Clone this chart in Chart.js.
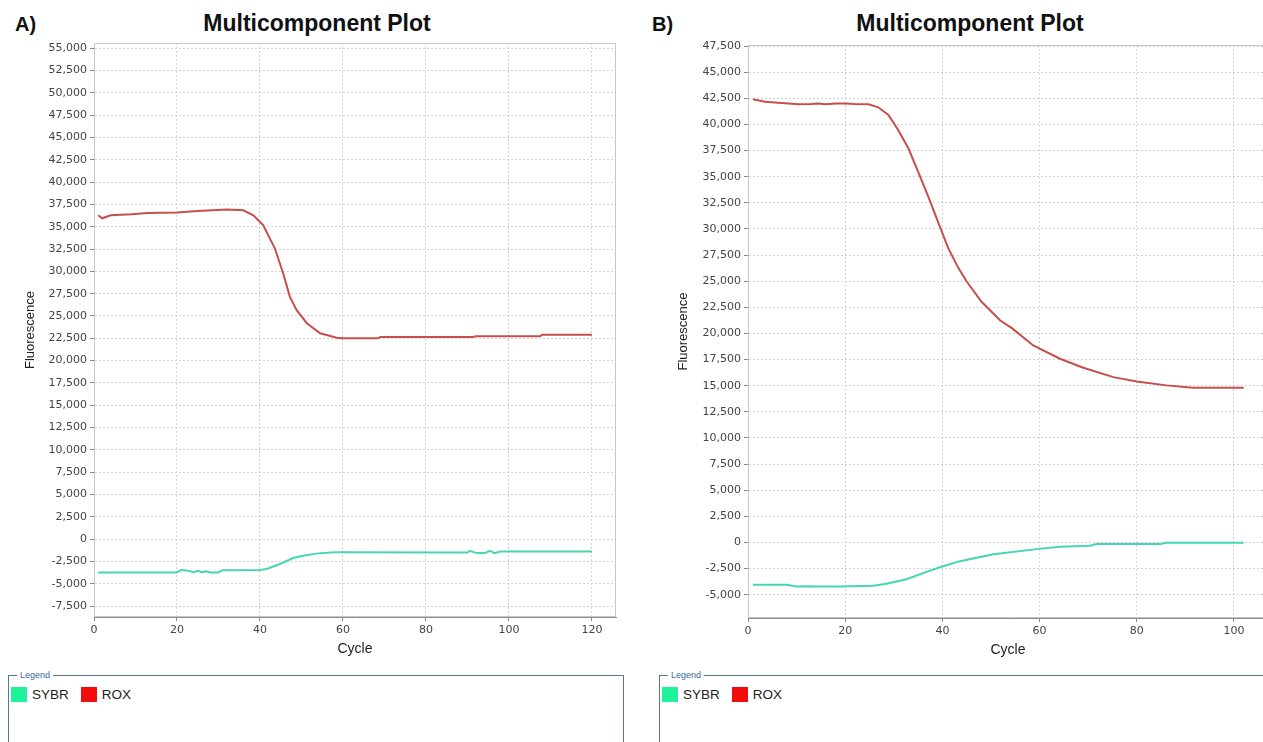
<!DOCTYPE html>
<html>
<head>
<meta charset="utf-8">
<script src="https://cdn.jsdelivr.net/npm/chart.js@4"></script>
<style>
  html, body { margin: 0; padding: 0; background: #fff; overflow: hidden; width: 1263px; height: 742px; }
  .wrap { position: relative; width: 1263px; height: 742px; overflow: hidden; }
  canvas { position: absolute; top: 0; }
  .panel { position: absolute; font: bold 20px "Liberation Sans", Arial, sans-serif; color: #111; }
  .title { position: absolute; font: bold 23px "Liberation Sans", Arial, sans-serif; color: #111; transform: translateX(-50%); white-space: nowrap; }
  .legbox { position: absolute; top: 675px; height: 120px; border: 1.5px solid #5a7690; }
  .legbox .cap { position: absolute; left: 8px; top: -6px; padding: 0 3px; background: #fff; font: 9px "Liberation Sans", Arial, sans-serif; color: #3b6aa6; }
  .legbox .items { position: absolute; left: 2px; top: 11px; display: flex; align-items: center; font: 13.5px "Liberation Sans", Arial, sans-serif; color: #222; }
  .legbox .sw { width: 16px; height: 15px; margin-right: 5px; }
  .legbox .lab { margin-right: 12px; }
</style>
</head>
<body>
<div class="wrap">
  <div class="panel" style="left:15px; top:13px;">A)</div>
  <div class="panel" style="left:652px; top:13px;">B)</div>
  <div class="title" style="left:317px; top:10px;">Multicomponent Plot</div>
  <div class="title" style="left:970px; top:10px;">Multicomponent Plot</div>
  <canvas id="chartA" width="640" height="658" style="left:0px;"></canvas>
  <canvas id="chartB" width="640" height="659" style="left:640px;"></canvas>
  <div class="legbox" style="left:8px; width:614px;"><span class="cap">Legend</span><div class="items" id="legA"></div></div>
  <div class="legbox" style="left:659px; width:700px;"><span class="cap">Legend</span><div class="items" id="legB"></div></div>
</div>
<script>
// series names and colours
const seriesNames = ["SYBR", "ROX"];
const lineColors = ["#45d6b3", "#c64f4c"];
const legendColors = ["#1ef29a", "#f20c0c"];

// Panel A (cycles 1-120)
const cycA_sybr = [1, 20, 21, 23, 24, 25, 26, 27, 28, 30, 31, 40, 41.6, 44.8, 48, 50.4, 54, 58, 60, 90, 90.6, 92.2, 94.2, 95.4, 96.6, 97.8, 120];
const sybrA     = [-3730, -3730, -3460, -3560, -3730, -3560, -3700, -3600, -3730, -3730, -3480, -3460, -3350, -2790, -2120, -1860, -1600, -1480, -1480, -1500, -1310, -1570, -1570, -1310, -1570, -1390, -1390];
const cycA_rox  = [1, 2, 4, 9, 13, 20, 25, 32, 36, 38.4, 40.8, 43.6, 45.6, 47.2, 48.8, 51.3, 54.5, 58.5, 60, 68.5, 69, 91.4, 92, 107.5, 108, 120];
const roxA      = [36290, 35950, 36290, 36400, 36550, 36590, 36770, 36930, 36850, 36290, 35170, 32560, 29760, 27170, 25680, 24190, 23070, 22570, 22500, 22500, 22650, 22650, 22720, 22720, 22900, 22900];

// Panel B (cycles 1-102)
const cycB_sybr = [1, 8, 9.9, 12, 14, 18.9, 25.8, 28.5, 32.6, 36, 39.5, 43.6, 50.5, 59.4, 64.2, 70.4, 71.7, 84.8, 86.1, 102];
const sybrB     = [-4060, -4060, -4220, -4180, -4220, -4220, -4150, -3960, -3520, -2940, -2370, -1790, -1120, -640, -420, -320, -160, -160, -30, -30];
const cycB_rox  = [1, 3.5, 6.2, 10.4, 13, 14.5, 16, 18, 20, 22, 24.8, 26.8, 28.9, 30.9, 33, 35, 37.1, 39.2, 41.2, 43.3, 45, 48.1, 51.9, 54.3, 58.7, 64.2, 69, 75.2, 80, 86.1, 91.6, 102];
const roxB      = [42400, 42170, 42080, 41920, 41950, 42010, 41920, 42000, 42010, 41950, 41920, 41640, 40900, 39470, 37720, 35480, 33090, 30550, 28160, 26250, 24970, 23000, 21240, 20510, 18850, 17580, 16720, 15820, 15410, 15030, 14810, 14810];

// axis ranges and ticks
const xRangeA = [0, 125.8];
const yRangeA = [-8730, 55590];
const xRangeB = [0, 107];
const yRangeB = [-7230, 47600];
const xTicksA = [0, 20, 40, 60, 80, 100, 120];
const xTicksB = [0, 20, 40, 60, 80, 100];
const yTicksA = [-7500, -5000, -2500, 0, 2500, 5000, 7500, 10000, 12500, 15000, 17500, 20000, 22500, 25000,
                 27500, 30000, 32500, 35000, 37500, 40000, 42500, 45000, 47500, 50000, 52500, 55000];
const yTicksB = [-5000, -2500, 0, 2500, 5000, 7500, 10000, 12500, 15000, 17500, 20000, 22500, 25000,
                 27500, 30000, 32500, 35000, 37500, 40000, 42500, 45000, 47500];

const pts = (xs, ys) => xs.map((x, i) => ({ x: x, y: ys[i] }));

const framePlugin = {
  id: "frame",
  beforeDatasetsDraw(chart) {
    const { ctx, chartArea: a } = chart;
    ctx.save();
    ctx.strokeStyle = "#c9c9c9";
    ctx.lineWidth = 1;
    ctx.strokeRect(a.left + 0.5, a.top + 0.5, a.right - a.left - 1, a.bottom - a.top - 1);
    ctx.restore();
  }
};

function makeChart(id, sybrPts, roxPts, xr, yr, xt, yt, pad, yWidth) {
  const tickFont = { family: "DejaVu Sans", size: 11 };
  return new Chart(document.getElementById(id), {
    type: "line",
    data: {
      datasets: [
        { label: seriesNames[0], data: sybrPts, borderColor: lineColors[0], borderWidth: 2, pointRadius: 0, tension: 0, fill: false },
        { label: seriesNames[1], data: roxPts, borderColor: lineColors[1], borderWidth: 2, pointRadius: 0, tension: 0, fill: false }
      ]
    },
    options: {
      responsive: false,
      animation: false,
      layout: { padding: pad },
      plugins: { legend: { display: false }, tooltip: { enabled: false } },
      scales: {
        x: {
          type: "linear",
          min: xr[0], max: xr[1],
          afterBuildTicks(s) { s.ticks = xt.map(v => ({ value: v })); },
          ticks: { font: tickFont, color: "#444", padding: 3, maxRotation: 0, autoSkip: false },
          grid: { color: "#d2d2d2", tickColor: "#888", tickLength: 4 },
          border: { color: "#8a8a8a", dash: [2, 2] },
          title: { display: true, text: "Cycle", font: { family: "Liberation Sans", size: 14 }, color: "#222", padding: 0 },
          afterFit(s) { s.height = 41; }
        },
        y: {
          type: "linear",
          min: yr[0], max: yr[1],
          afterBuildTicks(s) { s.ticks = yt.map(v => ({ value: v })); },
          ticks: { font: tickFont, color: "#444", padding: 3, autoSkip: false,
                   callback: v => v.toLocaleString("en-US") },
          grid: { color: "#d2d2d2", tickColor: "#888", tickLength: 4 },
          border: { color: "#8a8a8a", dash: [2, 2] },
          title: { display: true, text: "Fluorescence", font: { family: "Liberation Sans", size: 13 }, color: "#222", padding: { top: 4, bottom: 0 } },
          afterFit(s) { s.width = yWidth; }
        }
      }
    },
    plugins: [framePlugin]
  });
}

const chartA = makeChart("chartA", pts(cycA_sybr, sybrA), pts(cycA_rox, roxA), xRangeA, yRangeA, xTicksA, yTicksA,
  { left: 19, top: 43, right: 24, bottom: 0 }, 75);
const chartB = makeChart("chartB", pts(cycB_sybr, sybrB), pts(cycB_rox, roxB), xRangeB, yRangeB, xTicksB, yTicksB,
  { left: 32, top: 45, right: 12, bottom: 0 }, 76);

function buildLegend(chart, elId) {
  const el = document.getElementById(elId);
  chart.data.datasets.forEach((ds, i) => {
    const sw = document.createElement("span");
    sw.className = "sw";
    sw.style.background = legendColors[i];
    const lab = document.createElement("span");
    lab.className = "lab";
    lab.textContent = ds.label;
    el.appendChild(sw);
    el.appendChild(lab);
  });
}
buildLegend(chartA, "legA");
buildLegend(chartB, "legB");
</script>
</body>
</html>
